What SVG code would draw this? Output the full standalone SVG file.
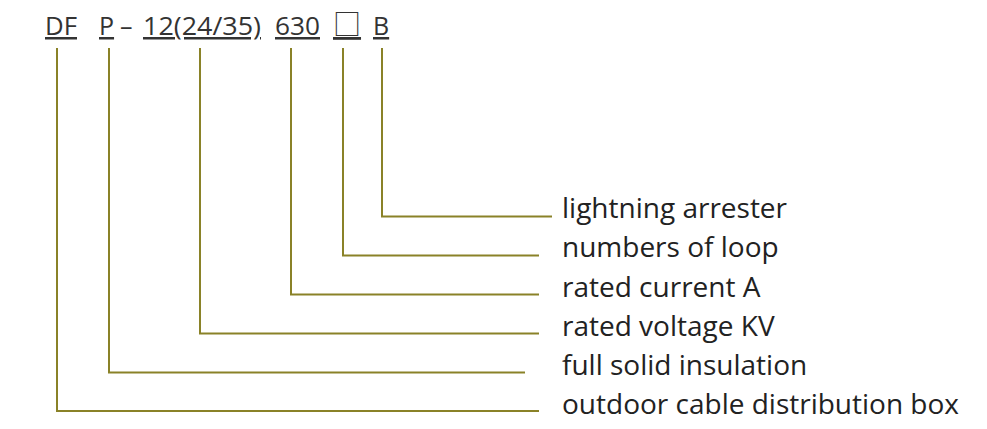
<svg xmlns="http://www.w3.org/2000/svg" width="987" height="429" viewBox="0 0 987 429">
<style>
.code{font-family:"Open Sans","Liberation Sans",sans-serif;font-size:25px;fill:#333;text-decoration:underline;}
.dash{font-family:"Open Sans","Liberation Sans",sans-serif;font-size:25px;fill:#333;}
.box{font-family:"Noto Sans CJK SC","DejaVu Sans",sans-serif;font-size:28px;fill:#333;text-decoration:underline;}
.lbl{font-family:"Open Sans","Liberation Sans",sans-serif;font-size:28px;fill:#222;}
.conn{fill:none;stroke:#8a8228;stroke-width:2;}
</style>
<rect width="987" height="429" fill="#fff"/>
<g id="code">
<text class="code" x="45" y="35" textLength="32" lengthAdjust="spacingAndGlyphs">DF</text>
<text class="code" x="99" y="35">P</text>
<text class="dash" x="120" y="35">–</text>
<text class="code" x="143" y="35" textLength="118" lengthAdjust="spacingAndGlyphs">12(24/35)</text>
<text class="code" x="275" y="35" textLength="45" lengthAdjust="spacingAndGlyphs">630</text>
<text class="box" x="333" y="35">□</text>
<text class="code" x="373" y="35">B</text>
</g>
<g id="connectors">
<polyline class="conn" points="382,48 382,216.5 552,216.5"/>
<polyline class="conn" points="343,48 343,255.5 539,255.5"/>
<polyline class="conn" points="291,48 291,294.5 539,294.5"/>
<polyline class="conn" points="200,48 200,333.5 539,333.5"/>
<polyline class="conn" points="109,48 109,372.5 525,372.5"/>
<polyline class="conn" points="57,48 57,411 539,411"/>
</g>
<g id="label-lightning"><text class="lbl" x="562" y="218">lightning arrester</text></g>
<g id="label-loop"><text class="lbl" x="562" y="257">numbers of loop</text></g>
<g id="label-current"><text class="lbl" x="562" y="297">rated current A</text></g>
<g id="label-voltage"><text class="lbl" x="562" y="336">rated voltage KV</text></g>
<g id="label-insulation"><text class="lbl" x="562" y="375">full solid insulation</text></g>
<g id="label-box"><text class="lbl" x="562" y="414">outdoor cable distribution box</text></g>
</svg>
